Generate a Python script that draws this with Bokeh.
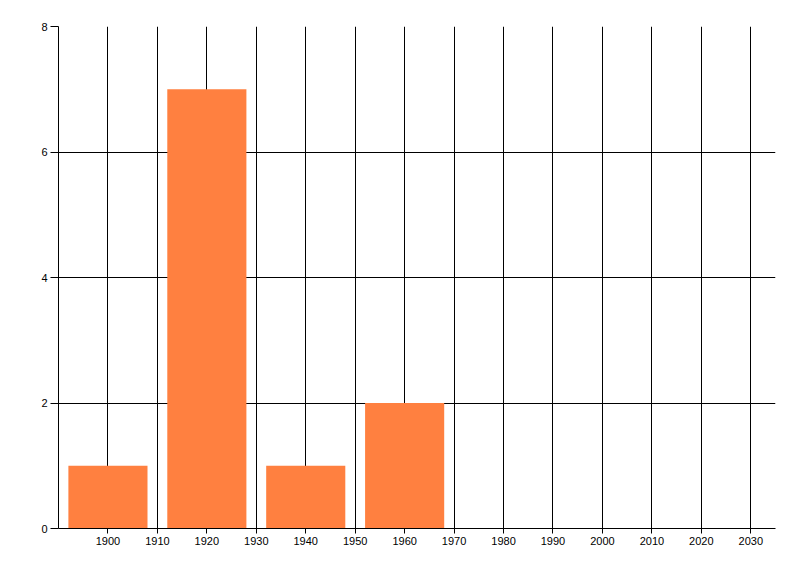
from bokeh.plotting import figure
from bokeh.models import Range1d, FixedTicker
from bokeh.embed import file_html
from bokeh.resources import INLINE

years = [1900, 1920, 1940, 1960]
counts = [1, 7, 1, 2]
x_ticks = [1900, 1910, 1920, 1930, 1940, 1950, 1960, 1970, 1980, 1990, 2000, 2010, 2020, 2030]
y_ticks = [0, 2, 4, 6, 8]

p = figure(width=793, height=567, output_backend="svg", toolbar_location=None,
           x_range=Range1d(1890, 2035), y_range=Range1d(0, 8),
           frame_width=717, frame_height=502,
           min_border_left=58, min_border_right=18, min_border_top=26, min_border_bottom=39)
p.outline_line_color = None
p.background_fill_color = "white"
p.border_fill_color = "white"

p.vbar(x=years, top=counts, bottom=0, width=16, fill_color="#FF8040", line_color=None)

for ax in (p.xaxis[0], p.yaxis[0]):
    ax.axis_line_color = "black"
    ax.axis_line_width = 1
    ax.major_tick_line_color = "black"
    ax.minor_tick_line_color = None
    ax.major_tick_in = 0
    ax.major_label_text_font = "Liberation Sans"
    ax.major_label_text_font_size = "11px"
    ax.major_label_text_color = "black"

p.xaxis[0].ticker = FixedTicker(ticks=x_ticks)
p.yaxis[0].ticker = FixedTicker(ticks=y_ticks)
p.xaxis[0].major_tick_out = 5
p.yaxis[0].major_tick_out = 8
p.xaxis[0].major_label_standoff = 3
p.yaxis[0].major_label_standoff = 3

p.xgrid.grid_line_color = "black"
p.xgrid.grid_line_width = 1
p.ygrid.grid_line_color = "black"
p.ygrid.grid_line_width = 1

open("out.html", "w").write(file_html(p, INLINE))
